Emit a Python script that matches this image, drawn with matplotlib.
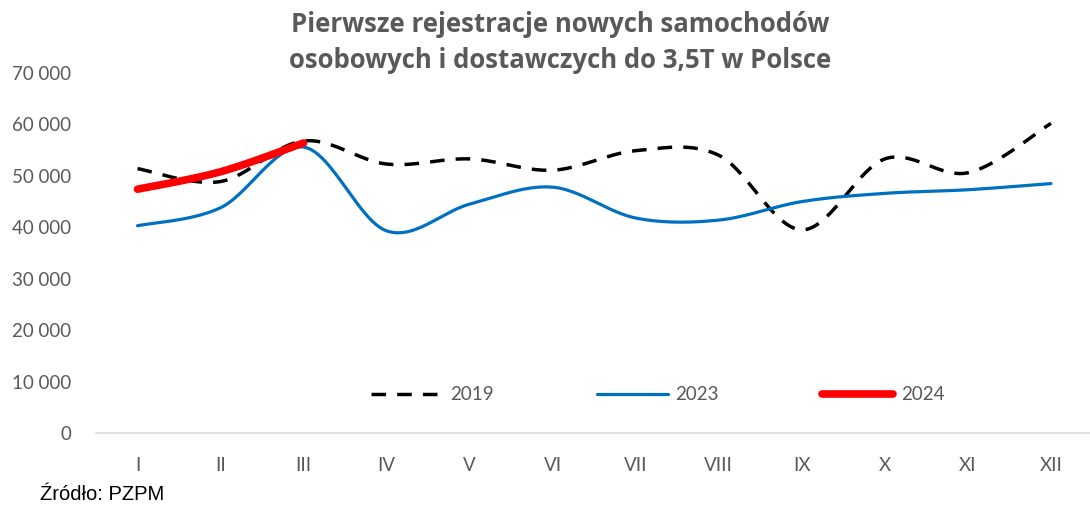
import numpy as np
import matplotlib
matplotlib.use('Agg')
from matplotlib import pyplot as plt

# Data
months = ['I', 'II', 'III', 'IV', 'V', 'VI', 'VII', 'VIII', 'IX', 'X', 'XI', 'XII']
y2019 = [51400, 48900, 56800, 52300, 53300, 51100, 54900, 54000, 39500, 53300, 50600, 60200]
y2023 = [40300, 43800, 55600, 39300, 44500, 47800, 41800, 41400, 45000, 46600, 47300, 48500]
y2024 = [47400, 50800, 56400]
yticks = [0, 10000, 20000, 30000, 40000, 50000, 60000, 70000]

GREY = '#595959'


def smooth(values, n=30):
    """Excel-style smoothed line (Catmull-Rom bezier through the points)"""
    p = np.column_stack([np.arange(len(values)), values]).astype(float)
    xs, ys = [], []
    for i in range(len(p) - 1):
        p0 = p[i - 1] if i > 0 else p[i]
        p3 = p[i + 2] if i + 2 < len(p) else p[i + 1]
        c1 = p[i] + (p[i + 1] - p0) / 6
        c2 = p[i + 1] - (p3 - p[i]) / 6
        t = np.linspace(0, 1, n)[:, None]
        seg = ((1 - t) ** 3 * p[i] + 3 * (1 - t) ** 2 * t * c1
               + 3 * (1 - t) * t ** 2 * c2 + t ** 3 * p[i + 1])
        xs.extend(seg[:, 0])
        ys.extend(seg[:, 1])
    return np.array(xs), np.array(ys)


plt.rcParams['font.family'] = ['Lato', 'DejaVu Sans']

fig = plt.figure(figsize=(10.9, 5.08), dpi=100)
ax = fig.add_axes([96 / 1090, 75 / 508, 994 / 1090, 360 / 508])

x, y = smooth(y2019)
ax.plot(x, y, color='black', lw=2.5, ls=(0, (4.2, 3.2)), label='2019')
x, y = smooth(y2023)
ax.plot(x, y, color='#0070C0', lw=2.3, solid_capstyle='round', label='2023')
x, y = smooth(y2024)
ax.plot(x, y, color='#FF0000', lw=5.5, solid_capstyle='round', label='2024')

ax.set_xlim(-0.5, 11.47)
ax.set_ylim(0, 70000)
ax.set_xticks(range(len(months)))
ax.set_xticklabels(months)
ax.set_yticks(yticks)
ax.set_yticklabels([f'{v:,}'.replace(',', ' ') for v in yticks])
ax.tick_params(length=0, labelsize=13.5, colors=GREY)
ax.tick_params(axis='y', pad=18)
ax.tick_params(axis='x', pad=17)
for side in ['top', 'right', 'left']:
    ax.spines[side].set_visible(False)
ax.spines['bottom'].set_color('#D9D9D9')
ax.spines['bottom'].set_linewidth(1.2)

leg = ax.legend(ncol=3, loc='center', bbox_to_anchor=(0.565, 0.106), frameon=False,
                handlelength=3.8, handletextpad=0.4, columnspacing=5.5,
                fontsize=13.5)
for t in leg.get_texts():
    t.set_color(GREY)

fig.text(0.514, 0.979, 'Pierwsze rejestracje nowych samochodów\nosobowych i dostawczych do 3,5T w Polsce',
         ha='center', va='top', fontsize=18.5, fontweight='bold', family='Open Sans',
         color=GREY, linespacing=1.45)
fig.text(40 / 1090, 8 / 508, 'Źródło: PZPM', fontsize=14.5, family='Liberation Sans',
         color='black', va='baseline')

plt.savefig('out.png', dpi=100)
